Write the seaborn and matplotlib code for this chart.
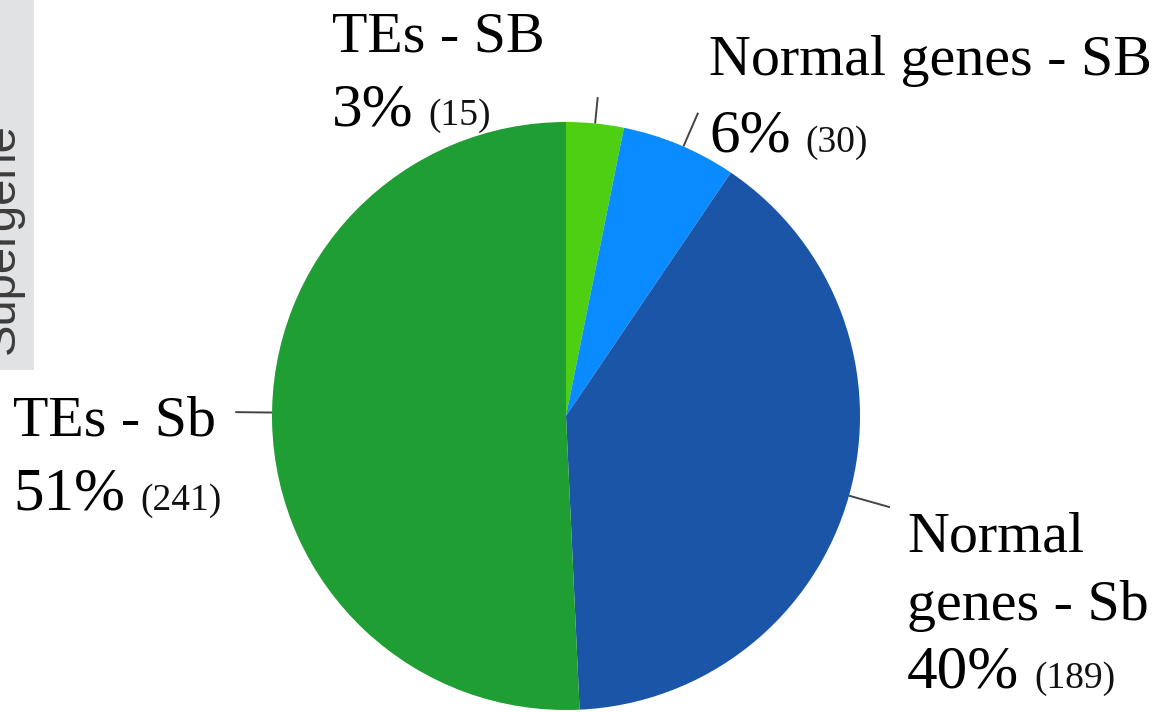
import numpy as np
import matplotlib
matplotlib.use("Agg")
import matplotlib.pyplot as plt
from matplotlib.patches import Rectangle
import seaborn as sns

# Gene / TE counts in the supergene, clockwise from the top
categories = ["TEs - SB", "Normal genes - SB", "Normal\ngenes - Sb", "TEs - Sb"]
counts = [15, 30, 189, 241]
slice_colors = ["#4ecf14", "#0a8bff", "#1b55a8", "#1e9e33"]
side_label = "Supergene"

sns.set_theme(style="white")
palette = sns.color_palette(slice_colors)

W, H = 1157, 712
fig = plt.figure(figsize=(W / 100, H / 100), dpi=100)
fig.patch.set_facecolor("white")


def fx(x):
    return x / W


def fy(y):
    return 1 - y / H


# grey side strip with the rotated heading
fig.patches.append(Rectangle((0, fy(370)), fx(34), 370 / H,
                             transform=fig.transFigure, facecolor="#e1e2e4",
                             edgecolor="none", zorder=0))
fig.text(fx(14), fy(239), side_label, rotation=90, rotation_mode="anchor",
         ha="center", va="baseline", fontsize=34, family="Liberation Sans",
         color="#3c3c3c")

# pie axes: centre (566, 416) px, radius 294 px
cx, cy, r = 566, 416, 294
ax = fig.add_axes([fx(cx - r), fy(cy + r), 2 * r / W, 2 * r / H])
wedges, _ = ax.pie(counts, colors=palette, startangle=90, counterclock=False,
                   wedgeprops=dict(linewidth=0, antialiased=True))
ax.set_xlim(-1, 1)
ax.set_ylim(-1, 1)
ax.set_aspect("equal")
ax.axis("off")

total = sum(counts)
pcts = [round(100 * c / total) for c in counts]

# leader-line outer radius / angle nudge and label anchor
# (left x, baseline y of first line, line step) in px
layout = [
    dict(r_out=1.09, dth=0.0, x=332, y=52, step=73),
    dict(r_out=1.125, dth=-0.8, x=709, y=75, step=77),
    dict(r_out=1.145, dth=0.0, x=907, y=552, step=68),
    dict(r_out=1.125, dth=-2.0, x=13, y=435, step=75),
]

serif = "Liberation Serif"
fig.canvas.draw()
renderer = fig.canvas.get_renderer()

for w, name, cnt, pct, lay in zip(wedges, categories, counts, pcts, layout):
    mid = np.deg2rad((w.theta1 + w.theta2) / 2 + lay["dth"])
    ca, sa = np.cos(mid), np.sin(mid)
    ax.plot([ca, ca * lay["r_out"]], [sa, sa * lay["r_out"]], color="#444444",
            lw=1.4, clip_on=False, solid_capstyle="butt")

    lines = name.split("\n")
    y = lay["y"]
    for ln in lines:
        fig.text(fx(lay["x"]), fy(y), ln, ha="left", va="baseline",
                 fontsize=41.8, family=serif, color="black")
        y += lay["step"]
    t = fig.text(fx(lay["x"]), fy(y), f"{pct}%", ha="left", va="baseline",
                 fontsize=44, family=serif, color="black")
    bb = t.get_window_extent(renderer=renderer)
    fig.text((bb.x1 + 15) / W, fy(y), f"({cnt})", ha="left", va="baseline",
             fontsize=27, family=serif, color="#111111")

fig.savefig("out.png", dpi=100, facecolor="white")
